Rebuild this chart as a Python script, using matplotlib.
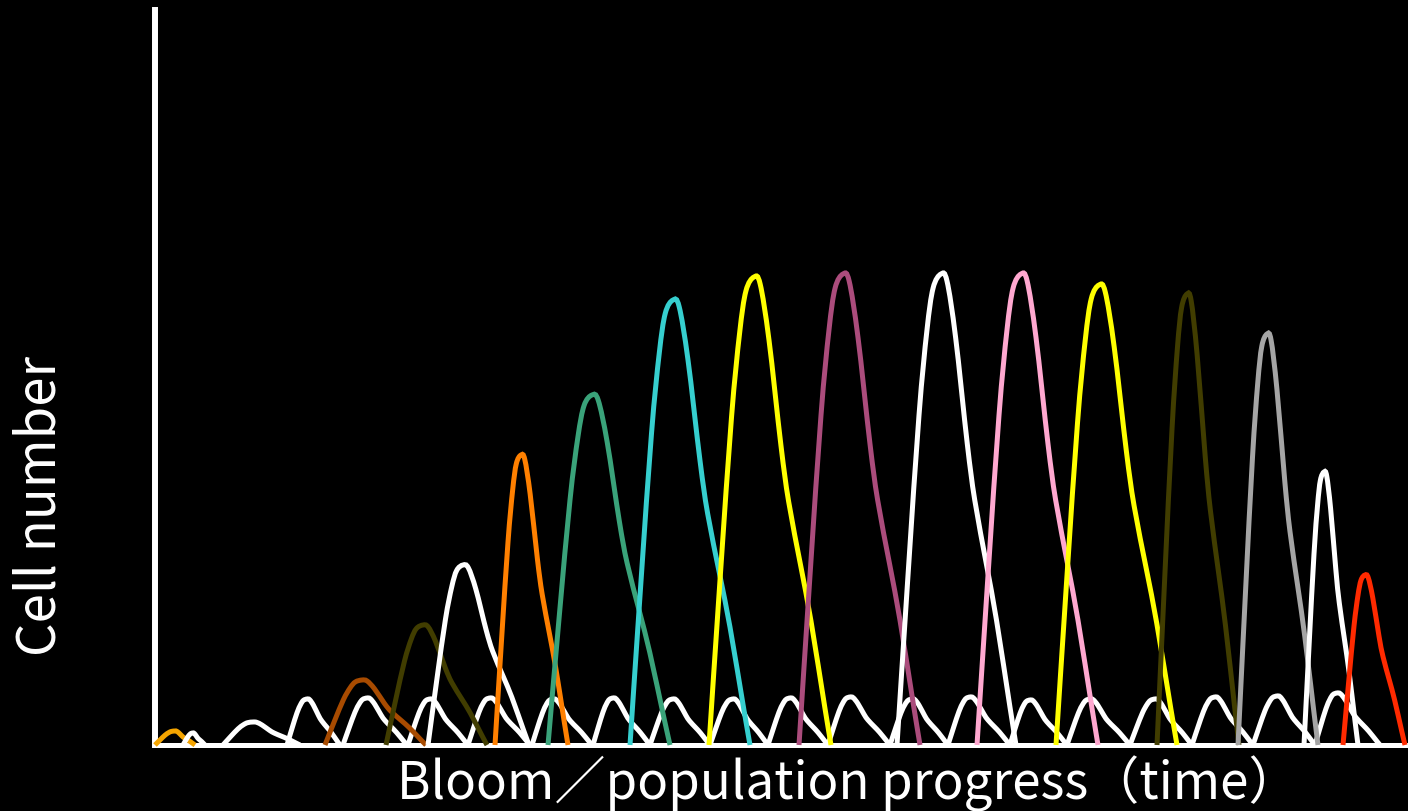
import numpy as np
import matplotlib
matplotlib.use("Agg")
import matplotlib.pyplot as plt
from matplotlib.path import Path
from matplotlib.patches import PathPatch

plt.rcParams['font.family'] = ['Noto Sans CJK JP', 'DejaVu Sans']

# time axis in arbitrary units, cell number in arbitrary units (0 = baseline)
# small "background" white bumps: left foot, peak, right foot, height
bump_left = [155, 183, 223, 287, 343, 408, 468, 532, 593, 650, 710, 768, 828, 890, 948,
             1010, 1067, 1130, 1192, 1253, 1315]
bump_peak = [175, 193, 253, 307, 367, 430, 490, 553, 613, 673, 733, 790, 850, 912, 970,
             1030, 1090, 1155, 1215, 1277, 1337]
bump_right = [195, 205, 300, 340, 407, 468, 530, 592, 650, 710, 768, 828, 890, 948, 1010,
              1067, 1130, 1192, 1253, 1315, 1380]
bump_height = [14, 12, 23, 46, 47, 46, 47, 46, 47, 46, 46, 47, 48, 46, 48,
               45, 46, 46, 48, 49, 52]
bump_colors = ['#F5A500'] + ['white'] * 20

# bloom peaks of the successive populations
peak_left = [325, 386, 428, 495, 548, 630, 709, 799, 897, 977, 1056, 1157, 1238, 1304, 1343]
peak_x = [362, 423, 463, 521, 592, 673, 754, 843, 941, 1021, 1099, 1187, 1267, 1324, 1365]
peak_right = [426, 487, 529, 568, 670, 750, 831, 920, 1016, 1098, 1177, 1239, 1318, 1358, 1405]
peak_height = [65, 120, 180, 290, 350, 445, 468, 471, 471, 471, 460, 451, 411, 273, 170]
peak_colors = ['#A84B00', '#413D00', 'white', '#FF8000', '#3AA37A', '#36CFCF', '#FFFF00',
               '#AB4C7C', 'white', '#FFA8D0', '#FFFF00', '#413D00', '#A5A5A5', 'white', '#FF2A00']

# normalised outline of one peak (rise then fall)
rise_u = [0.0, 0.25, 0.5, 0.68, 0.82, 1.0]
rise_v = [0.0, 0.36, 0.70, 0.88, 0.97, 1.0]
fall_w = [0.08, 0.195, 0.35, 0.45, 0.61, 0.74, 0.92, 1.0]
fall_v = [0.985, 0.865, 0.64, 0.52, 0.38, 0.265, 0.08, 0.0]


def peak_points(xl, xp, xr, h):
    xs = [xl + u * (xp - xl) for u in rise_u] + [xp + w * (xr - xp) for w in fall_w]
    ys = [v * h for v in rise_v] + [v * h for v in fall_v]
    return np.column_stack([xs, ys])


def smooth_path(pts):
    # Catmull-Rom knots turned into cubic bezier segments
    verts = [pts[0]]
    codes = [Path.MOVETO]
    n = len(pts)
    for i in range(n - 1):
        p0 = pts[max(i - 1, 0)]
        p1 = pts[i]
        p2 = pts[i + 1]
        p3 = pts[min(i + 2, n - 1)]
        verts += [p1 + (p2 - p0) / 6, p2 - (p3 - p1) / 6, p2]
        codes += [Path.CURVE4] * 3
    return Path(verts, codes)


fig = plt.figure(figsize=(14.08, 8.11), dpi=100, facecolor='black')
ax = fig.add_axes([155 / 1408, 66 / 811, 1 - 155 / 1408, 735 / 811])
ax.set_facecolor('black')
ax.set_xlim(155, 1408)
ax.set_ylim(0, 735)

for i in range(len(bump_peak)):
    pts = peak_points(bump_left[i], bump_peak[i], bump_right[i], bump_height[i])
    ax.add_patch(PathPatch(smooth_path(pts), fill=False, edgecolor=bump_colors[i],
                           lw=3.6, zorder=3, clip_on=False, capstyle='butt'))

for i in range(len(peak_x)):
    pts = peak_points(peak_left[i], peak_x[i], peak_right[i], peak_height[i])
    ax.add_patch(PathPatch(smooth_path(pts), fill=False, edgecolor=peak_colors[i],
                           lw=3.6, zorder=4, clip_on=False, capstyle='butt'))

for side in ['top', 'right']:
    ax.spines[side].set_visible(False)
ax.spines['left'].set_color('white')
ax.spines['left'].set_linewidth(4.3)
ax.spines['bottom'].set_color('white')
ax.spines['bottom'].set_linewidth(3.6)
ax.spines['bottom'].set_zorder(2)
ax.set_xticks([])
ax.set_yticks([])

fig.text(848 / 1408, 11 / 811, 'Bloom／population progress（time）', color='white',
         fontsize=36.8, ha='center', va='baseline')
fig.text(40 / 1408, 305 / 811, 'Cell number', color='white', fontsize=38,
         rotation=90, ha='center', va='center')

fig.savefig('out.png', dpi=100, facecolor='black')
